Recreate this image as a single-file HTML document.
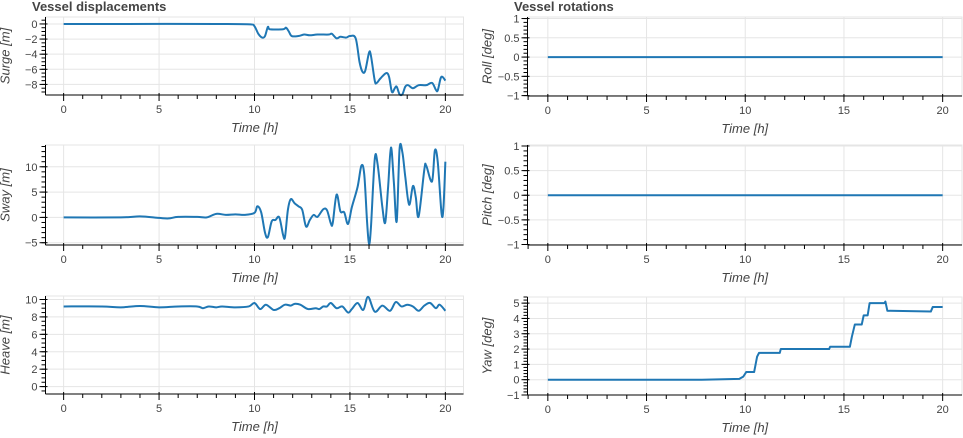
<!DOCTYPE html>
<html><head><meta charset="utf-8">
<style>
body{margin:0;background:#fff;}
svg{display:block;font-family:"Liberation Sans",sans-serif;}
</style></head>
<body>
<svg id="chart" width="963" height="438" viewBox="0 0 963 438" xmlns="http://www.w3.org/2000/svg">
<text x="32" y="11" font-size="13" font-weight="bold" fill="#444">Vessel displacements</text>
<text x="514" y="11" font-size="13" font-weight="bold" fill="#444">Vessel rotations</text>
</svg>
<script>
const xTicks = [0, 5, 10, 15, 20];

const surgeT = [0,3,8,9.8,10,10.2,10.4,10.55,10.7,10.8,11.5,11.65,11.8,11.95,12.3,12.6,12.9,13.3,13.9,14.05,14.3,14.5,14.8,15.0,15.3,15.5,15.65,15.8,16.0,16.1,16.3,16.4,16.6,16.9,17.05,17.2,17.35,17.45,17.6,17.75,17.9,18.05,18.3,18.6,19.0,19.3,19.5,19.6,19.75,19.85,20];
const surgeV = [0,0,0,-0.05,-0.3,-1.3,-1.8,-1.6,-0.4,-0.7,-0.7,-0.5,-1.0,-1.6,-1.6,-1.4,-1.5,-1.4,-1.4,-1.3,-1.9,-1.7,-1.8,-1.6,-1.9,-5,-6.3,-6.2,-3.8,-4.2,-7.5,-7.8,-7.2,-6.5,-7,-9.0,-8.5,-8.3,-9.3,-9.3,-8.3,-8.1,-8.5,-8.1,-8.1,-7.8,-8.7,-8.8,-7.2,-7.0,-7.5];
const surgeTicks = [0,-2,-4,-6,-8];

const swayT = [0,3,4,5,5.5,6,7,7.5,8,8.5,9,9.5,10,10.15,10.35,10.55,10.7,10.9,11.1,11.3,11.5,11.6,11.75,11.9,12.1,12.3,12.5,12.7,12.9,13.1,13.3,13.6,13.8,14.0,14.1,14.3,14.5,14.7,14.9,15.1,15.4,15.6,15.75,15.9,16.0,16.1,16.3,16.45,16.7,16.85,17.0,17.15,17.3,17.45,17.6,17.75,17.9,18.1,18.3,18.45,18.6,18.9,19.0,19.3,19.45,19.6,19.8,19.9,20];
const swayV = [0,0,0.2,-0.1,-0.2,0.1,0.1,0,0.7,0.5,0.6,0.5,0.9,2.2,1.0,-3.0,-3.9,-0.8,-0.5,0,-3.5,-3.8,1.5,3.6,2.8,2.2,1.5,-1.8,-0.5,0.5,0.1,1.6,1.4,-1.2,-1.1,4.5,1.2,1.0,-1.3,2.0,6.0,10.2,8.5,-1,-5.2,-2,11.5,10.5,2,-1.0,6,13.8,7,-0.8,13.5,12.8,8,2.5,6.2,4,0.2,9.5,10.2,7.1,13.2,11,0.8,2,11];
const swayTicks = [10,5,0,-5];

const heaveT = [0,2,3,4,5,6,7,7.3,7.6,8,8.3,9,9.7,10,10.3,10.6,11,11.3,11.6,11.9,12.1,12.4,12.8,13.2,13.4,13.6,13.8,14.0,14.3,14.6,14.9,15.1,15.4,15.7,15.95,16.3,16.7,17.1,17.4,17.7,18.0,18.3,18.6,18.9,19.2,19.5,19.7,20];
const heaveV = [9.2,9.2,9.1,9.25,9.1,9.2,9.2,9.0,9.2,9.1,9.2,9.1,9.2,9.6,8.9,9.4,8.8,9.0,9.4,9.3,9.5,9.4,8.9,9.0,8.9,9.2,9.2,9.6,9.0,9.2,8.5,8.9,9.6,8.8,10.3,8.6,9.3,8.7,9.7,9.2,9.4,9.2,8.7,9.3,9.6,9.0,9.4,8.7];
const heaveTicks = [10,8,6,4,2,0];

const rollT = [0,20];
const rollV = [0,0];
const pitchT = [0,20];
const pitchV = [0,0];
const rotTicks = [1,0.5,0,-0.5,-1];

const yawT = [0,7.8,9.7,9.9,10.05,10.45,10.6,10.7,11.75,11.8,14.25,14.3,15.3,15.4,15.55,15.9,16.0,16.2,16.3,17.05,17.1,17.2,19.4,19.5,20];
const yawV = [0,0,0.05,0.2,0.5,0.5,1.5,1.75,1.75,2.0,2.0,2.15,2.15,2.8,3.6,3.6,4.2,4.2,5.0,5.0,5.1,4.5,4.45,4.75,4.75];
const yawTicks = [5,4,3,2,1,0,-1];

const svg = document.getElementById('chart');
const NS = 'http://www.w3.org/2000/svg';
function mk(tag, attrs, parent){
  const e = document.createElementNS(NS, tag);
  for (const k in attrs) e.setAttribute(k, attrs[k]);
  (parent||svg).appendChild(e);
  return e;
}
function fmt(v){ return v < 0 ? '\u2212' + String(-v) : String(v); }

function pathFor(pts, smooth){
  let d = 'M' + pts[0][0].toFixed(2) + ' ' + pts[0][1].toFixed(2);
  for (let i = 1; i < pts.length; i++) {
    if (!smooth) { d += 'L' + pts[i][0].toFixed(2) + ' ' + pts[i][1].toFixed(2); continue; }
    const p0 = pts[Math.max(0, i - 2)], p1 = pts[i - 1], p2 = pts[i], p3 = pts[Math.min(pts.length - 1, i + 1)];
    const k = 1 / 6;
    let c1x = p1[0] + (p2[0] - p0[0]) * k, c1y = p1[1] + (p2[1] - p0[1]) * k;
    let c2x = p2[0] - (p3[0] - p1[0]) * k, c2y = p2[1] - (p3[1] - p1[1]) * k;
    c1x = Math.min(Math.max(c1x, p1[0]), p2[0]);
    c2x = Math.min(Math.max(c2x, p1[0]), p2[0]);
    d += 'C' + c1x.toFixed(2) + ' ' + c1y.toFixed(2) + ' ' + c2x.toFixed(2) + ' ' + c2y.toFixed(2) + ' ' + p2[0].toFixed(2) + ' ' + p2[1].toFixed(2);
  }
  return d;
}

function panel(name, L, R, T, B, xmin, xmax, ymin, ymax, yTicks, minorStep, T_, V_, ylabel, smooth){
  const g = mk('g', {});
  
  
  const xs = v => L + (v - xmin) / (xmax - xmin) * (R - L);
  const ys = v => B - (v - ymin) / (ymax - ymin) * (B - T);
  const ol = mk('rect', {x:L, y:T, width:R-L, height:B-T, fill:'none', stroke:'#e5e5e5', 'stroke-width':1}, g);
  
  
  xTicks.forEach(t => {
    const l = mk('line', {x1:xs(t), x2:xs(t), y1:T, y2:B, stroke:'#e5e5e5'}, g);
    
    
  });
  yTicks.forEach(t => {
    const l = mk('line', {x1:L, x2:R, y1:ys(t), y2:ys(t), stroke:'#e5e5e5'}, g);
    
    
  });
  const pts = T_.map((t, i) => [xs(t), ys(V_[i])]);
  const p = mk('path', {d:pathFor(pts, smooth), fill:'none', stroke:'#1f77b4', 'stroke-width':2, 'stroke-linejoin':'round'}, g);
  
  
  const ax = mk('line', {x1:L, x2:R, y1:B, y2:B, stroke:'#000'}, g);
  
  
  const ay = mk('line', {x1:L, x2:L, y1:T, y2:B, stroke:'#000'}, g);
  
  
  for (let t = Math.ceil(xmin); t <= xmax; t++) {
    const major = xTicks.indexOf(t) >= 0;
    mk('line', {x1:xs(t), x2:xs(t), y1:B - (major?2:0), y2:B + (major?6:4), stroke:'#000'}, g);
  }
  xTicks.forEach(t => {
    const tx = mk('text', {x:xs(t), y:B + 18, 'font-size':11, fill:'#444', 'text-anchor':'middle'}, g);
    tx.textContent = fmt(t);
    
    
  });
  const n = Math.round((ymax - ymin) / minorStep);
  for (let i = 0; i <= n; i++) {
    const v = Math.ceil(ymin / minorStep) * minorStep + i * minorStep;
    if (v > ymax + 1e-9) break;
    mk('line', {x1:L - 4, x2:L, y1:ys(v), y2:ys(v), stroke:'#000'}, g);
  }
  yTicks.forEach(t => {
    mk('line', {x1:L - 6, x2:L + 2, y1:ys(t), y2:ys(t), stroke:'#000'}, g);
    const tx = mk('text', {x:L - 8, y:ys(t) + 4, 'font-size':11, fill:'#444', 'text-anchor':'end'}, g);
    tx.textContent = fmt(t);
    
    
  });
  const xl = mk('text', {x:(L + R) / 2, y:B + 37, 'font-size':13, 'font-style':'italic', fill:'#444', 'text-anchor':'middle'}, g);
  xl.textContent = 'Time [h]';
  
  
  const cx = L - 36, cy = (T + B) / 2;
  const yl = mk('text', {x:cx, y:cy, 'font-size':13, 'font-style':'italic', fill:'#444', 'text-anchor':'middle', transform:'rotate(-90 ' + cx + ' ' + cy + ')'}, g);
  yl.textContent = ylabel;
  
  
}

const lxmin = -0.95, lxmax = 20.95;
panel('surge', 45.5, 463.5, 17, 95, lxmin, lxmax, -9.4, 0.92, surgeTicks, 0.5, surgeT, surgeV, 'Surge [m]', true);
panel('sway', 45.5, 463.5, 145, 245, lxmin, lxmax, -5.45, 14.3, swayTicks, 1, swayT, swayV, 'Sway [m]', true);
panel('heave', 45.5, 463.5, 296, 394, lxmin, lxmax, -0.85, 10.4, heaveTicks, 0.5, heaveT, heaveV, 'Heave [m]', true);
const rxmin = -1.03, rxmax = 20.98;
panel('roll', 527.5, 962, 17, 96, rxmin, rxmax, -1.01, 1.04, rotTicks, 0.1, rollT, rollV, 'Roll [deg]', false);
panel('pitch', 527.5, 962, 145, 245, rxmin, rxmax, -1.01, 1.02, rotTicks, 0.1, pitchT, pitchV, 'Pitch [deg]', false);
panel('yaw', 527.5, 962, 297, 395, rxmin, rxmax, -1.0, 5.4, yawTicks, 0.2, yawT, yawV, 'Yaw [deg]', false);
</script>
</body></html>
